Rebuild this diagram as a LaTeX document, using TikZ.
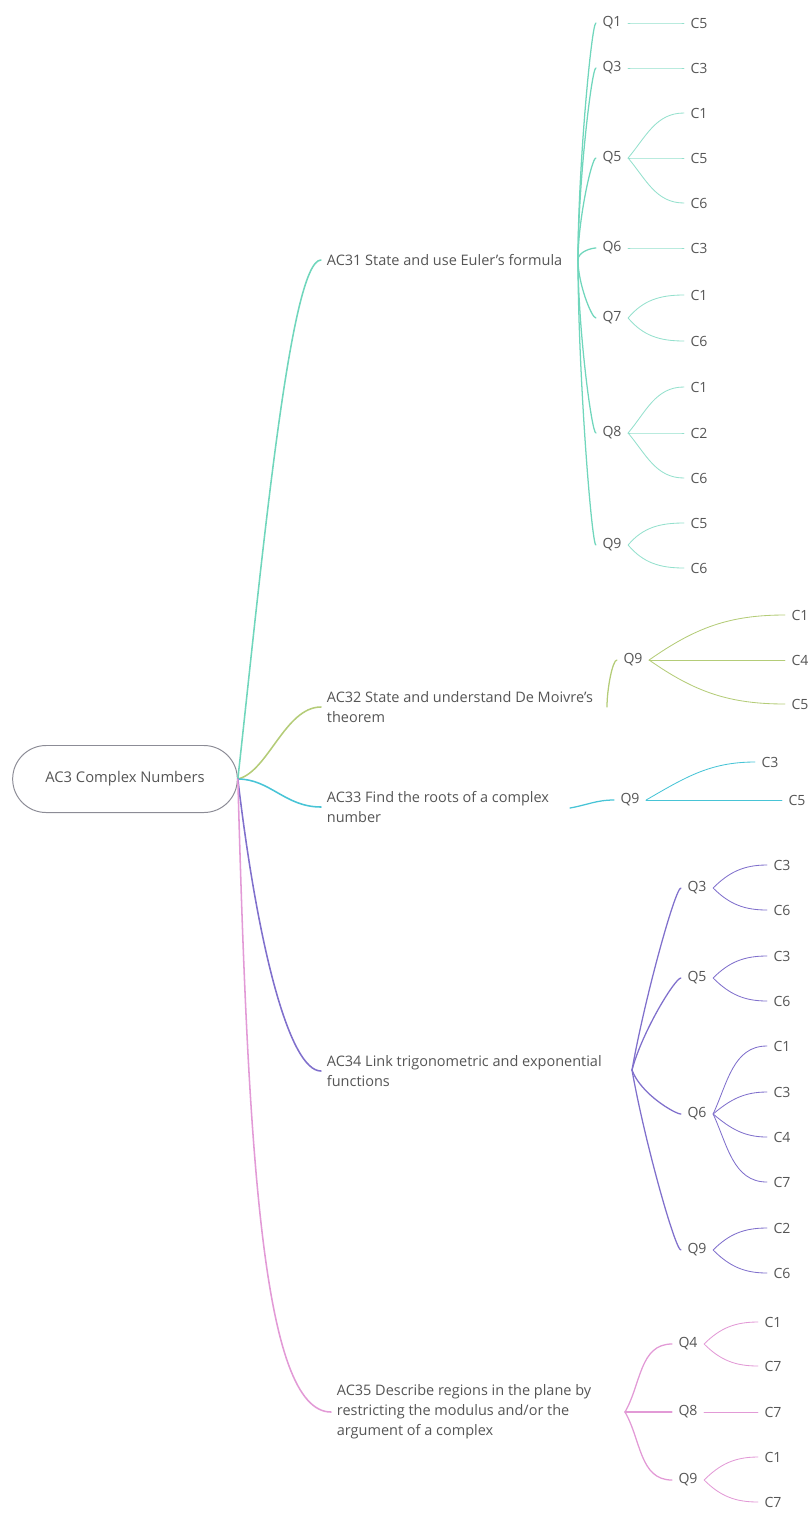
\documentclass[tikz,border=0pt]{standalone}
\usepackage{fontspec}
\setmainfont{Open Sans}
\usepackage{tikz}
\usetikzlibrary{shapes.misc}
\definecolor{ink}{RGB}{85,85,85}
\definecolor{rim}{RGB}{140,140,150}
\definecolor{euler}{RGB}{112,214,188}
\definecolor{moivre}{RGB}{180,204,120}
\definecolor{roots}{RGB}{72,196,214}
\definecolor{trig}{RGB}{128,112,204}
\definecolor{region}{RGB}{226,154,214}
\tikzset{
  central/.style={draw=rim, line width=0.7pt, rounded rectangle, minimum width=5.85cm,
    minimum height=1.675cm, font=\fontsize{10.5}{13}\selectfont, text=ink},
  topic/.style={anchor=west, align=left, inner xsep=4pt, inner ysep=1pt,
    font=\fontsize{10.3}{14.2}\selectfont, text=ink},
  leaf/.style={inner xsep=4.5pt, inner ysep=1pt, font=\fontsize{10}{11}\selectfont, text=ink},
  % lijnen
  branch/.style={line width=1.1pt, line cap=round},
  stem/.style={line width=0.9pt, line cap=round},
  twig/.style={line width=0.6pt, line cap=round}
}
\begin{document}
\begin{tikzpicture}[x=0.025cm, y=-0.025cm]
    \useasboundingbox (0,0) rectangle (808,1533);
    \node[central] (ac3) at (125,779) {AC3 Complex Numbers};
    % onderwerpen
    \node[topic] (ac31) at (321,260) {AC31 State and use Euler's formula};
    \node[topic] (ac32) at (321,707) {AC32 State and understand De Moivre's\\theorem};
    \node[topic] (ac33) at (321,807) {AC33 Find the roots of a complex\\number};
    \node[topic] (ac34) at (321,1071) {AC34 Link trigonometric and exponential\\functions};
    \node[topic] (ac35) at (331,1412) {AC35 Describe regions in the plane by\\restricting the modulus and/or the\\argument of a complex};
    \coordinate (j31) at (578,260);
    \coordinate (j32) at (607,707);
    \coordinate (j33) at (570,808);
    \coordinate (j34) at (632,1070);
    \coordinate (j35) at (625,1412);
    \draw[branch, euler] (ac3.east) .. controls (262,560) and (290,260) .. (ac31.west);
    \draw[branch, moivre] (ac3.east) .. controls (268,772) and (285,707) .. (ac32.west);
    \draw[branch, roots] (ac3.east) .. controls (270,779) and (285,807) .. (ac33.west);
    \draw[branch, trig] (ac3.east) .. controls (258,950) and (290,1071) .. (ac34.west);
    \draw[branch, region] (ac3.east) .. controls (248,1150) and (262,1412) .. (ac35.west);
    % AC31
    \foreach \q/\y/\o in {1/23/90, 3/68/90, 5/158/90, 6/248/90, 7/318/-90, 8/433/-90, 9/545/-90}{
      \node[leaf] (q31-\q) at (612,\y) {Q\q};
      \draw[stem, euler] (j31) to[out=\o, in=180, in distance=3pt] (q31-\q.west);
    }
    \foreach \q/\k/\y/\o in {1/5/23/0, 3/3/68/0, 5/1/113/50, 5/5/158/0, 5/6/203/-50, 6/3/248/0,
        7/1/295/50, 7/6/341/-50, 8/1/387/50, 8/2/433/0, 8/6/478/-50, 9/5/523/50, 9/6/568/-50}{
      \node[leaf] (c31-\q-\k) at (699,\y) {C\k};
      \draw[twig, euler!75] (q31-\q.east) to[out=\o, in=180] (c31-\q-\k.west);
    }
    % AC32
    \node[leaf] (q32-9) at (633,660) {Q9};
    \draw[stem, moivre] (j32) to[out=90, in=180, in distance=3pt] (q32-9.west);
    \foreach \k/\y/\o in {1/615/35, 4/660/0, 5/704/-35}{
      \node[leaf] (c32-\k) at (800,\y) {C\k};
      \draw[twig, moivre] (q32-9.east) to[out=\o, in=180] (c32-\k.west);
    }
    % AC33
    \node[leaf] (q33-9) at (630,800) {Q9};
    \node[leaf] (c33-3) at (770,762) {C3};
    \node[leaf] (c33-5) at (797,800) {C5};
    \draw[stem, roots] (j33) to[out=10, in=180] (q33-9.west);
    \draw[twig, roots] (q33-9.east) to[out=30, in=180] (c33-3.west);
    \draw[twig, roots] (q33-9.east) -- (c33-5.west);
    % AC34
    \foreach \q/\y/\o in {3/888/80, 5/978/75, 6/1114/-70, 9/1250/-80}{
      \node[leaf] (q34-\q) at (697,\y) {Q\q};
      \draw[stem, trig] (j34) to[out=\o, in=180, in distance=4pt] (q34-\q.west);
    }
    \foreach \q/\k/\y/\o in {3/3/865/45, 3/6/910/-45, 5/3/956/45, 5/6/1001/-45, 6/1/1046/65,
        6/3/1092/40, 6/4/1137/-40, 6/7/1182/-65, 9/2/1228/45, 9/6/1273/-45}{
      \node[leaf] (c34-\q-\k) at (782,\y) {C\k};
      \draw[twig, trig] (q34-\q.east) to[out=\o, in=180] (c34-\q-\k.west);
    }
    % AC35
    \foreach \q/\y/\o in {4/1344/60, 8/1412/0, 9/1480/-60}{
      \node[leaf] (q35-\q) at (688,\y) {Q\q};
      \draw[stem, region] (j35) to[out=\o, in=180] (q35-\q.west);
    }
    \foreach \q/\k/\y/\o in {4/1/1322/45, 4/7/1366/-45, 8/7/1412/0, 9/1/1457/45, 9/7/1502/-45}{
      \node[leaf] (c35-\q-\k) at (773,\y) {C\k};
      \draw[twig, region] (q35-\q.east) to[out=\o, in=180] (c35-\q-\k.west);
    }
  \end{tikzpicture}
\end{document}
